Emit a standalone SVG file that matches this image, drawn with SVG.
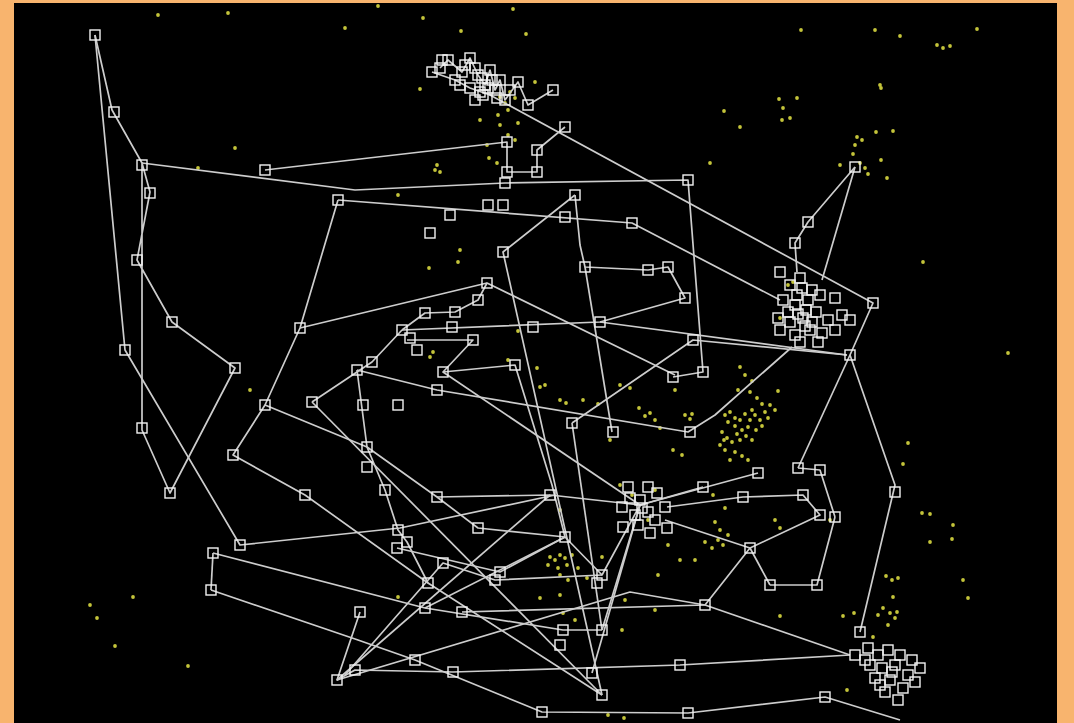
<svg xmlns="http://www.w3.org/2000/svg" width="1074" height="723" viewBox="0 0 1074 723">
<style>
.ln{fill:none;stroke:#cdcdcd;stroke-width:1.7;stroke-linejoin:round}
.sq{fill:none;stroke:#f2f2f2;stroke-width:1.4}
.dt{fill:#c4c43a}
</style>
<defs>
<rect id="s" class="sq" x="-5" y="-5" width="10" height="10"/>
<circle id="d" class="dt" r="1.9"/>
</defs>
<rect x="0" y="0" width="1074" height="723" fill="#F8B46E"/>
<rect x="14" y="3" width="1043" height="720" fill="#000"/>
<g id="dots">
<use href="#d" x="158" y="15"/><use href="#d" x="228" y="13"/><use href="#d" x="345" y="28"/><use href="#d" x="235" y="148"/><use href="#d" x="198" y="168"/><use href="#d" x="250" y="390"/>
<use href="#d" x="90" y="605"/><use href="#d" x="97" y="618"/><use href="#d" x="133" y="597"/><use href="#d" x="115" y="646"/><use href="#d" x="188" y="666"/>
<use href="#d" x="378" y="6"/><use href="#d" x="423" y="18"/><use href="#d" x="513" y="9"/><use href="#d" x="461" y="31"/><use href="#d" x="526" y="34"/><use href="#d" x="420" y="89"/>
<use href="#d" x="500" y="97"/><use href="#d" x="505" y="103"/><use href="#d" x="510" y="92"/><use href="#d" x="515" y="98"/><use href="#d" x="508" y="110"/><use href="#d" x="498" y="115"/><use href="#d" x="535" y="82"/>
<use href="#d" x="480" y="120"/><use href="#d" x="500" y="125"/><use href="#d" x="518" y="123"/><use href="#d" x="508" y="135"/><use href="#d" x="515" y="140"/><use href="#d" x="487" y="145"/><use href="#d" x="489" y="158"/><use href="#d" x="497" y="163"/>
<use href="#d" x="435" y="170"/><use href="#d" x="437" y="165"/><use href="#d" x="440" y="172"/><use href="#d" x="398" y="195"/>
<use href="#d" x="460" y="250"/><use href="#d" x="458" y="262"/><use href="#d" x="429" y="268"/>
<use href="#d" x="801" y="30"/><use href="#d" x="875" y="30"/><use href="#d" x="900" y="36"/><use href="#d" x="937" y="45"/><use href="#d" x="943" y="48"/><use href="#d" x="950" y="46"/><use href="#d" x="977" y="29"/><use href="#d" x="880" y="85"/><use href="#d" x="881" y="88"/>
<use href="#d" x="779" y="99"/><use href="#d" x="797" y="98"/><use href="#d" x="783" y="108"/><use href="#d" x="782" y="120"/><use href="#d" x="790" y="118"/><use href="#d" x="724" y="111"/><use href="#d" x="740" y="127"/><use href="#d" x="710" y="163"/>
<use href="#d" x="857" y="137"/><use href="#d" x="862" y="140"/><use href="#d" x="855" y="145"/><use href="#d" x="876" y="132"/><use href="#d" x="893" y="131"/><use href="#d" x="853" y="154"/><use href="#d" x="881" y="160"/><use href="#d" x="868" y="174"/><use href="#d" x="887" y="178"/><use href="#d" x="840" y="165"/><use href="#d" x="860" y="163"/><use href="#d" x="865" y="168"/>
<use href="#d" x="923" y="262"/><use href="#d" x="1008" y="353"/><use href="#d" x="908" y="443"/><use href="#d" x="903" y="464"/>
<use href="#d" x="788" y="285"/><use href="#d" x="793" y="282"/><use href="#d" x="780" y="318"/>
<use href="#d" x="518" y="331"/><use href="#d" x="433" y="352"/><use href="#d" x="430" y="357"/><use href="#d" x="508" y="360"/><use href="#d" x="537" y="368"/>
<use href="#d" x="540" y="387"/><use href="#d" x="545" y="385"/><use href="#d" x="560" y="400"/><use href="#d" x="566" y="403"/><use href="#d" x="583" y="400"/><use href="#d" x="598" y="404"/>
<use href="#d" x="620" y="385"/><use href="#d" x="630" y="388"/><use href="#d" x="639" y="408"/><use href="#d" x="645" y="416"/><use href="#d" x="650" y="413"/><use href="#d" x="655" y="420"/><use href="#d" x="660" y="428"/><use href="#d" x="675" y="390"/><use href="#d" x="685" y="415"/><use href="#d" x="690" y="419"/><use href="#d" x="692" y="414"/><use href="#d" x="673" y="450"/><use href="#d" x="682" y="455"/><use href="#d" x="610" y="440"/>
<use href="#d" x="740" y="367"/><use href="#d" x="745" y="375"/><use href="#d" x="752" y="381"/><use href="#d" x="738" y="390"/><use href="#d" x="750" y="392"/><use href="#d" x="757" y="398"/><use href="#d" x="762" y="404"/><use href="#d" x="770" y="405"/><use href="#d" x="775" y="410"/>
<use href="#d" x="725" y="415"/><use href="#d" x="730" y="412"/><use href="#d" x="735" y="418"/><use href="#d" x="740" y="420"/><use href="#d" x="745" y="414"/><use href="#d" x="750" y="420"/><use href="#d" x="755" y="415"/><use href="#d" x="760" y="420"/><use href="#d" x="768" y="418"/><use href="#d" x="735" y="426"/><use href="#d" x="742" y="430"/><use href="#d" x="748" y="427"/><use href="#d" x="756" y="430"/><use href="#d" x="762" y="426"/>
<use href="#d" x="722" y="432"/><use href="#d" x="727" y="438"/><use href="#d" x="732" y="442"/><use href="#d" x="740" y="440"/><use href="#d" x="746" y="436"/><use href="#d" x="752" y="440"/><use href="#d" x="720" y="445"/><use href="#d" x="725" y="450"/><use href="#d" x="735" y="452"/><use href="#d" x="742" y="456"/><use href="#d" x="730" y="460"/><use href="#d" x="748" y="460"/><use href="#d" x="778" y="391"/>
<use href="#d" x="728" y="422"/><use href="#d" x="752" y="410"/><use href="#d" x="765" y="412"/><use href="#d" x="737" y="434"/><use href="#d" x="724" y="440"/>
<use href="#d" x="620" y="485"/><use href="#d" x="648" y="520"/><use href="#d" x="655" y="490"/><use href="#d" x="632" y="495"/>
<use href="#d" x="550" y="557"/><use href="#d" x="555" y="560"/><use href="#d" x="560" y="555"/><use href="#d" x="565" y="558"/><use href="#d" x="548" y="565"/><use href="#d" x="558" y="568"/><use href="#d" x="567" y="565"/><use href="#d" x="572" y="555"/><use href="#d" x="560" y="575"/><use href="#d" x="568" y="580"/><use href="#d" x="560" y="595"/><use href="#d" x="563" y="613"/><use href="#d" x="575" y="620"/><use href="#d" x="587" y="578"/><use href="#d" x="540" y="598"/><use href="#d" x="578" y="568"/>
<use href="#d" x="602" y="557"/><use href="#d" x="625" y="600"/><use href="#d" x="622" y="630"/><use href="#d" x="655" y="610"/><use href="#d" x="658" y="575"/><use href="#d" x="680" y="560"/><use href="#d" x="695" y="560"/><use href="#d" x="668" y="545"/><use href="#d" x="705" y="542"/>
<use href="#d" x="715" y="522"/><use href="#d" x="720" y="530"/><use href="#d" x="718" y="540"/><use href="#d" x="723" y="545"/><use href="#d" x="728" y="535"/><use href="#d" x="712" y="548"/><use href="#d" x="725" y="508"/><use href="#d" x="713" y="495"/>
<use href="#d" x="775" y="520"/><use href="#d" x="780" y="528"/><use href="#d" x="830" y="520"/>
<use href="#d" x="922" y="513"/><use href="#d" x="930" y="514"/><use href="#d" x="953" y="525"/><use href="#d" x="952" y="539"/><use href="#d" x="930" y="542"/><use href="#d" x="963" y="580"/><use href="#d" x="968" y="598"/>
<use href="#d" x="886" y="576"/><use href="#d" x="892" y="580"/><use href="#d" x="898" y="578"/><use href="#d" x="893" y="597"/><use href="#d" x="883" y="608"/><use href="#d" x="890" y="613"/><use href="#d" x="895" y="618"/><use href="#d" x="897" y="612"/><use href="#d" x="888" y="625"/><use href="#d" x="878" y="615"/><use href="#d" x="854" y="613"/><use href="#d" x="843" y="616"/><use href="#d" x="873" y="637"/><use href="#d" x="780" y="616"/><use href="#d" x="847" y="690"/>
<use href="#d" x="608" y="715"/><use href="#d" x="624" y="718"/><use href="#d" x="398" y="597"/><use href="#d" x="560" y="510"/>
</g>
<g id="connectors" class="ln">
<polyline points="95,35 112,110 142,163 142,430 170,493 235,368 172,322 137,260 150,192 142,163"/>
<polyline points="95,35 125,350 240,545 400,528 555,495"/>
<polyline points="142,163 355,190 505,183 688,180 703,372 673,377"/>
<polyline points="265,170 507,142 507,172 537,172 537,150 565,127"/>
<polyline points="338,200 300,328 265,405 233,455 305,495 428,583 602,695"/>
<polyline points="338,200 632,223 780,300"/>
<polyline points="300,328 487,283 675,375"/>
<polyline points="440,68 448,60 462,72 470,58 478,75 485,85 490,70 495,90 500,80 505,100 518,82 528,105 553,90"/>
<polyline points="432,72 455,80 470,88 490,95 873,303 850,355 895,485 860,632"/>
<polyline points="855,167 808,222 795,243 797,272"/>
<polyline points="855,167 822,280"/>
<polyline points="575,195 503,252 602,695"/>
<polyline points="575,195 580,245 585,267 648,270 668,267 685,298 600,322 402,330"/>
<polyline points="585,267 612,432"/>
<polyline points="402,330 425,313 455,312 478,300 487,283"/>
<polyline points="407,340 473,340 443,372 515,365 552,485 565,537"/>
<polyline points="357,370 437,390 688,432 715,415 792,347"/>
<polyline points="572,423 693,340 847,355"/>
<polyline points="600,322 847,355"/>
<polyline points="312,402 372,362 402,330"/>
<polyline points="312,402 602,695"/>
<polyline points="443,372 640,505"/>
<polyline points="265,405 367,447 437,497 478,528 565,537"/>
<polyline points="357,370 367,447 385,490 398,530 407,542 428,583"/>
<polyline points="213,553 211,590"/>
<polyline points="213,553 425,608 563,630 602,630"/>
<polyline points="211,590 358,640 415,660 542,712 688,713 825,697 900,720"/>
<polyline points="360,612 337,680 355,670 453,672 680,665 850,655"/>
<polyline points="337,680 550,495"/>
<polyline points="337,680 630,592 705,605"/>
<polyline points="345,675 443,563 495,580 602,575"/>
<polyline points="397,548 500,572 565,537 602,575 640,505 703,487"/>
<polyline points="425,608 565,537"/>
<polyline points="572,423 602,630"/>
<polyline points="462,612 705,605 750,548 820,515 803,495 743,497 667,507"/>
<polyline points="770,585 817,585 835,517"/>
<polyline points="770,585 750,548 665,520"/>
<polyline points="798,468 850,355"/>
<polyline points="758,473 640,505 602,630"/>
<polyline points="705,605 850,655"/>
<polyline points="640,505 592,673"/>
<polyline points="437,497 550,495 640,505"/>
<polyline points="798,468 820,470 835,517"/>
</g>
<g id="nodes">
<use href="#s" x="95" y="35"/><use href="#s" x="114" y="112"/><use href="#s" x="142" y="165"/><use href="#s" x="150" y="193"/><use href="#s" x="137" y="260"/><use href="#s" x="125" y="350"/><use href="#s" x="172" y="322"/><use href="#s" x="235" y="368"/><use href="#s" x="142" y="428"/><use href="#s" x="170" y="493"/>
<use href="#s" x="240" y="545"/><use href="#s" x="213" y="553"/><use href="#s" x="211" y="590"/><use href="#s" x="233" y="455"/><use href="#s" x="265" y="405"/><use href="#s" x="300" y="328"/><use href="#s" x="338" y="200"/><use href="#s" x="265" y="170"/><use href="#s" x="312" y="402"/><use href="#s" x="305" y="495"/>
<use href="#s" x="507" y="142"/><use href="#s" x="507" y="172"/><use href="#s" x="537" y="172"/><use href="#s" x="537" y="150"/><use href="#s" x="565" y="127"/><use href="#s" x="528" y="105"/><use href="#s" x="553" y="90"/><use href="#s" x="505" y="183"/><use href="#s" x="688" y="180"/>
<use href="#s" x="440" y="68"/><use href="#s" x="448" y="60"/><use href="#s" x="462" y="72"/><use href="#s" x="470" y="58"/><use href="#s" x="478" y="75"/><use href="#s" x="485" y="85"/><use href="#s" x="490" y="70"/><use href="#s" x="495" y="90"/><use href="#s" x="500" y="80"/><use href="#s" x="505" y="100"/><use href="#s" x="518" y="82"/><use href="#s" x="455" y="80"/><use href="#s" x="470" y="88"/><use href="#s" x="483" y="95"/><use href="#s" x="432" y="72"/>
<use href="#s" x="465" y="65"/><use href="#s" x="475" y="68"/><use href="#s" x="482" y="78"/><use href="#s" x="488" y="88"/><use href="#s" x="492" y="80"/><use href="#s" x="497" y="98"/><use href="#s" x="480" y="92"/><use href="#s" x="460" y="85"/><use href="#s" x="442" y="60"/><use href="#s" x="510" y="90"/><use href="#s" x="475" y="100"/>
<use href="#s" x="575" y="195"/><use href="#s" x="488" y="205"/><use href="#s" x="503" y="205"/><use href="#s" x="565" y="217"/><use href="#s" x="632" y="223"/><use href="#s" x="430" y="233"/><use href="#s" x="450" y="215"/><use href="#s" x="503" y="252"/>
<use href="#s" x="585" y="267"/><use href="#s" x="648" y="270"/><use href="#s" x="668" y="267"/><use href="#s" x="685" y="298"/><use href="#s" x="600" y="322"/><use href="#s" x="533" y="327"/><use href="#s" x="487" y="283"/><use href="#s" x="478" y="300"/><use href="#s" x="425" y="313"/><use href="#s" x="455" y="312"/><use href="#s" x="402" y="330"/><use href="#s" x="473" y="340"/><use href="#s" x="417" y="350"/><use href="#s" x="443" y="372"/><use href="#s" x="515" y="365"/><use href="#s" x="437" y="390"/><use href="#s" x="452" y="327"/><use href="#s" x="410" y="338"/>
<use href="#s" x="363" y="405"/><use href="#s" x="398" y="405"/><use href="#s" x="367" y="447"/><use href="#s" x="357" y="370"/><use href="#s" x="372" y="362"/><use href="#s" x="385" y="490"/><use href="#s" x="703" y="372"/><use href="#s" x="673" y="377"/><use href="#s" x="693" y="340"/><use href="#s" x="572" y="423"/><use href="#s" x="613" y="432"/><use href="#s" x="690" y="432"/>
<use href="#s" x="855" y="167"/><use href="#s" x="808" y="222"/><use href="#s" x="795" y="243"/><use href="#s" x="873" y="303"/><use href="#s" x="850" y="355"/><use href="#s" x="895" y="492"/>
<use href="#s" x="780" y="272"/><use href="#s" x="790" y="285"/><use href="#s" x="800" y="278"/><use href="#s" x="812" y="290"/><use href="#s" x="783" y="300"/><use href="#s" x="795" y="305"/><use href="#s" x="808" y="300"/><use href="#s" x="820" y="295"/><use href="#s" x="835" y="298"/><use href="#s" x="842" y="315"/><use href="#s" x="778" y="318"/><use href="#s" x="790" y="322"/><use href="#s" x="803" y="318"/><use href="#s" x="816" y="312"/><use href="#s" x="828" y="320"/><use href="#s" x="780" y="330"/><use href="#s" x="795" y="335"/><use href="#s" x="810" y="330"/><use href="#s" x="822" y="333"/><use href="#s" x="835" y="330"/><use href="#s" x="850" y="320"/><use href="#s" x="800" y="342"/><use href="#s" x="818" y="342"/><use href="#s" x="806" y="310"/><use href="#s" x="797" y="295"/>
<use href="#s" x="802" y="288"/><use href="#s" x="798" y="314"/><use href="#s" x="812" y="322"/><use href="#s" x="788" y="312"/><use href="#s" x="805" y="326"/>
<use href="#s" x="743" y="497"/><use href="#s" x="758" y="473"/><use href="#s" x="798" y="468"/><use href="#s" x="820" y="470"/><use href="#s" x="803" y="495"/><use href="#s" x="820" y="515"/><use href="#s" x="835" y="517"/><use href="#s" x="750" y="548"/><use href="#s" x="770" y="585"/><use href="#s" x="817" y="585"/><use href="#s" x="705" y="605"/><use href="#s" x="703" y="487"/>
<use href="#s" x="628" y="487"/><use href="#s" x="648" y="487"/><use href="#s" x="657" y="493"/><use href="#s" x="622" y="507"/><use href="#s" x="640" y="500"/><use href="#s" x="665" y="507"/><use href="#s" x="623" y="527"/><use href="#s" x="635" y="515"/><use href="#s" x="648" y="512"/><use href="#s" x="667" y="528"/><use href="#s" x="630" y="498"/><use href="#s" x="650" y="533"/><use href="#s" x="655" y="520"/><use href="#s" x="638" y="525"/><use href="#s" x="642" y="508"/>
<use href="#s" x="367" y="467"/><use href="#s" x="437" y="497"/><use href="#s" x="478" y="528"/><use href="#s" x="398" y="530"/><use href="#s" x="407" y="542"/><use href="#s" x="397" y="548"/><use href="#s" x="443" y="563"/><use href="#s" x="428" y="583"/><use href="#s" x="500" y="572"/><use href="#s" x="495" y="580"/><use href="#s" x="425" y="608"/><use href="#s" x="462" y="612"/><use href="#s" x="550" y="495"/><use href="#s" x="565" y="537"/><use href="#s" x="602" y="575"/><use href="#s" x="597" y="583"/><use href="#s" x="563" y="630"/><use href="#s" x="602" y="630"/><use href="#s" x="560" y="645"/><use href="#s" x="680" y="665"/><use href="#s" x="592" y="673"/><use href="#s" x="602" y="695"/><use href="#s" x="453" y="672"/><use href="#s" x="415" y="660"/><use href="#s" x="360" y="612"/><use href="#s" x="355" y="670"/><use href="#s" x="337" y="680"/><use href="#s" x="542" y="712"/><use href="#s" x="688" y="713"/><use href="#s" x="825" y="697"/>
<use href="#s" x="860" y="632"/><use href="#s" x="855" y="655"/><use href="#s" x="868" y="648"/><use href="#s" x="878" y="655"/><use href="#s" x="888" y="650"/><use href="#s" x="900" y="655"/><use href="#s" x="912" y="660"/><use href="#s" x="920" y="668"/><use href="#s" x="870" y="665"/><use href="#s" x="882" y="668"/><use href="#s" x="895" y="665"/><use href="#s" x="908" y="675"/><use href="#s" x="875" y="678"/><use href="#s" x="890" y="680"/><use href="#s" x="903" y="688"/><use href="#s" x="915" y="682"/><use href="#s" x="885" y="692"/><use href="#s" x="898" y="700"/><use href="#s" x="865" y="660"/><use href="#s" x="892" y="672"/><use href="#s" x="880" y="685"/>
</g>
</svg>
